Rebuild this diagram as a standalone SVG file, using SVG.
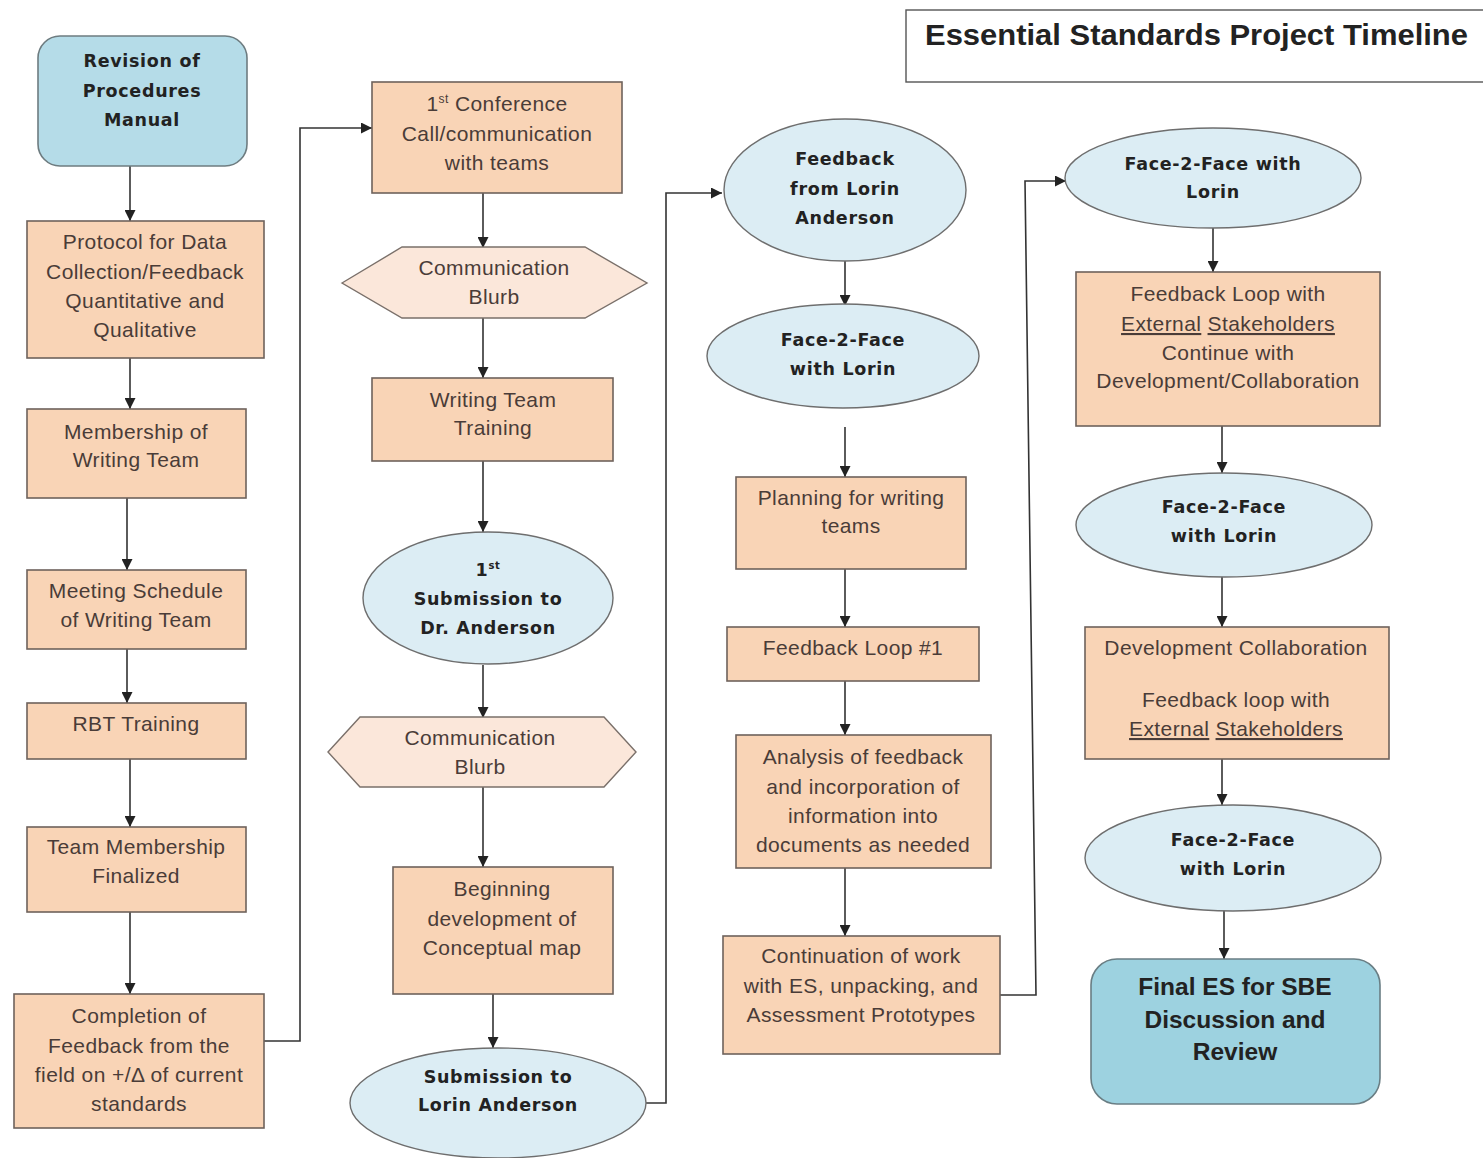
<svg xmlns="http://www.w3.org/2000/svg" width="1483" height="1158" viewBox="0 0 1483 1158">
<style>
.box{fill:#F9D4B6;stroke:#6e625c;stroke-width:1.6}
.ell{fill:#DCEDF4;stroke:#6e6e6e;stroke-width:1.4}
.hex{fill:#FBE7DA;stroke:#7a706a;stroke-width:1.4}
.t{font-family:"Liberation Sans",Arial,sans-serif;font-size:21px;fill:#4a3c38;text-anchor:middle;letter-spacing:0.4px}
.b{font-family:"DejaVu Sans",Verdana,sans-serif;font-weight:bold;font-size:17.5px;fill:#222;text-anchor:middle;letter-spacing:0.7px}
.f{font-family:"Liberation Sans",Arial,sans-serif;font-weight:bold;font-size:24.5px;fill:#222;text-anchor:middle}
.c{fill:none;stroke:#333;stroke-width:1.6}
</style>
<defs>
<marker id="ah" viewBox="0 0 10 10" refX="10" refY="5" markerWidth="11" markerHeight="11" markerUnits="userSpaceOnUse" orient="auto">
<path d="M0,0 L10,5 L0,10 z" fill="#222"/>
</marker>
</defs>
<rect width="1483" height="1158" fill="#fff"/>

<g id="title">
<rect x="906" y="10" width="590" height="72" fill="#fff" stroke="#555" stroke-width="1.4"/>
<text x="925" y="45" textLength="543" lengthAdjust="spacingAndGlyphs" font-family="'Liberation Sans',Arial,sans-serif" font-weight="bold" font-size="29px" fill="#222">Essential Standards Project Timeline</text>
</g>

<g id="connectors">
<path class="c" marker-end="url(#ah)" d="M130,166 V221"/>
<path class="c" marker-end="url(#ah)" d="M130,345 V409"/>
<path class="c" marker-end="url(#ah)" d="M127,498 V570"/>
<path class="c" marker-end="url(#ah)" d="M127,649 V703"/>
<path class="c" marker-end="url(#ah)" d="M130,759 V827"/>
<path class="c" marker-end="url(#ah)" d="M130,912 V994"/>
<path class="c" marker-end="url(#ah)" d="M264,1041 H300 V128 H372"/>
<path class="c" marker-end="url(#ah)" d="M483,193 V248"/>
<path class="c" marker-end="url(#ah)" d="M483,318 V378"/>
<path class="c" marker-end="url(#ah)" d="M483,461 V532"/>
<path class="c" marker-end="url(#ah)" d="M483,665 V718"/>
<path class="c" marker-end="url(#ah)" d="M483,787 V867"/>
<path class="c" marker-end="url(#ah)" d="M493,994 V1048"/>
<path class="c" marker-end="url(#ah)" d="M646,1103 H666 V193 H722"/>
<path class="c" marker-end="url(#ah)" d="M845,261 V306"/>
<path class="c" marker-end="url(#ah)" d="M845,427 V477"/>
<path class="c" marker-end="url(#ah)" d="M845,569 V627"/>
<path class="c" marker-end="url(#ah)" d="M845,681 V735"/>
<path class="c" marker-end="url(#ah)" d="M845,868 V936"/>
<path class="c" marker-end="url(#ah)" d="M1000,995 H1036 L1025,181 H1066"/>
<path class="c" marker-end="url(#ah)" d="M1213,228 V272"/>
<path class="c" marker-end="url(#ah)" d="M1222,426 V473"/>
<path class="c" marker-end="url(#ah)" d="M1222,577 V627"/>
<path class="c" marker-end="url(#ah)" d="M1222,759 V805"/>
<path class="c" marker-end="url(#ah)" d="M1224,900 V959"/>
</g>

<g id="n1">
<rect x="38" y="36" width="209" height="130" rx="22" fill="#B5DCE8" stroke="#6e7c80" stroke-width="1.6"/>
<text class="b" x="142" y="67">Revision of</text>
<text class="b" x="142" y="97">Procedures</text>
<text class="b" x="142" y="126">Manual</text>
</g>
<g id="n2">
<rect class="box" x="27" y="221" width="237" height="137"/>
<text class="t" x="145" y="249">Protocol for Data</text>
<text class="t" x="145" y="279">Collection/Feedback</text>
<text class="t" x="145" y="308">Quantitative and</text>
<text class="t" x="145" y="337">Qualitative</text>
</g>
<g id="n3">
<rect class="box" x="27" y="409" width="219" height="89"/>
<text class="t" x="136" y="439">Membership of</text>
<text class="t" x="136" y="467">Writing Team</text>
</g>
<g id="n4">
<rect class="box" x="27" y="570" width="219" height="79"/>
<text class="t" x="136" y="598">Meeting Schedule</text>
<text class="t" x="136" y="627">of Writing Team</text>
</g>
<g id="n5">
<rect class="box" x="27" y="703" width="219" height="56"/>
<text class="t" x="136" y="731">RBT Training</text>
</g>
<g id="n6">
<rect class="box" x="27" y="827" width="219" height="85"/>
<text class="t" x="136" y="854">Team Membership</text>
<text class="t" x="136" y="883">Finalized</text>
</g>
<g id="n7">
<rect class="box" x="14" y="994" width="250" height="134"/>
<text class="t" x="139" y="1023">Completion of</text>
<text class="t" x="139" y="1053">Feedback from the</text>
<text class="t" x="139" y="1082">field on +/Δ of current</text>
<text class="t" x="139" y="1111">standards</text>
</g>

<g id="n8">
<rect class="box" x="372" y="82" width="250" height="111"/>
<text class="t" x="497" y="111">1<tspan font-size="12" dy="-8">st</tspan><tspan dy="8"> Conference</tspan></text>
<text class="t" x="497" y="141">Call/communication</text>
<text class="t" x="497" y="170">with teams</text>
</g>
<g id="n9">
<polygon class="hex" points="342,283 402,247 585,247 647,283 585,318 402,318"/>
<text class="t" x="494" y="275">Communication</text>
<text class="t" x="494" y="304">Blurb</text>
</g>
<g id="n10">
<rect class="box" x="372" y="378" width="241" height="83"/>
<text class="t" x="493" y="407">Writing Team</text>
<text class="t" x="493" y="435">Training</text>
</g>
<g id="n11">
<ellipse class="ell" cx="488" cy="598" rx="125" ry="66"/>
<text class="b" x="488" y="576">1<tspan font-size="10" dy="-7">st</tspan></text>
<text class="b" x="488" y="605">Submission to</text>
<text class="b" x="488" y="634">Dr. Anderson</text>
</g>
<g id="n12">
<polygon class="hex" points="328,752 360,717 604,717 636,752 604,787 360,787"/>
<text class="t" x="480" y="745">Communication</text>
<text class="t" x="480" y="774">Blurb</text>
</g>
<g id="n13">
<rect class="box" x="393" y="867" width="220" height="127"/>
<text class="t" x="502" y="896">Beginning</text>
<text class="t" x="502" y="926">development of</text>
<text class="t" x="502" y="955">Conceptual map</text>
</g>
<g id="n14">
<ellipse class="ell" cx="498" cy="1103" rx="148" ry="55"/>
<text class="b" x="498" y="1083">Submission to</text>
<text class="b" x="498" y="1111">Lorin Anderson</text>
</g>

<g id="n15">
<ellipse class="ell" cx="845" cy="190" rx="121" ry="71"/>
<text class="b" x="845" y="165">Feedback</text>
<text class="b" x="845" y="195">from Lorin</text>
<text class="b" x="845" y="224">Anderson</text>
</g>
<g id="n16">
<ellipse class="ell" cx="843" cy="356" rx="136" ry="52"/>
<text class="b" x="843" y="346">Face-2-Face</text>
<text class="b" x="843" y="375">with Lorin</text>
</g>
<g id="n17">
<rect class="box" x="736" y="477" width="230" height="92"/>
<text class="t" x="851" y="505">Planning for writing</text>
<text class="t" x="851" y="533">teams</text>
</g>
<g id="n18">
<rect class="box" x="727" y="627" width="252" height="54"/>
<text class="t" x="853" y="655">Feedback Loop #1</text>
</g>
<g id="n19">
<rect class="box" x="736" y="735" width="255" height="133"/>
<text class="t" x="863" y="764">Analysis of feedback</text>
<text class="t" x="863" y="794">and incorporation of</text>
<text class="t" x="863" y="823">information into</text>
<text class="t" x="863" y="852">documents as needed</text>
</g>
<g id="n20">
<rect class="box" x="723" y="936" width="277" height="118"/>
<text class="t" x="861" y="963">Continuation of work</text>
<text class="t" x="861" y="993">with ES, unpacking, and</text>
<text class="t" x="861" y="1022">Assessment Prototypes</text>
</g>

<g id="n21">
<ellipse class="ell" cx="1213" cy="178" rx="148" ry="50"/>
<text class="b" x="1213" y="170">Face-2-Face with</text>
<text class="b" x="1213" y="198">Lorin</text>
</g>
<g id="n22">
<rect class="box" x="1076" y="272" width="304" height="154"/>
<text class="t" x="1228" y="301">Feedback Loop with</text>
<text class="t" x="1228" y="331"><tspan text-decoration="underline">External</tspan> <tspan text-decoration="underline">Stakeholders</tspan></text>
<text class="t" x="1228" y="360">Continue with</text>
<text class="t" x="1228" y="388">Development/Collaboration</text>
</g>
<g id="n23">
<ellipse class="ell" cx="1224" cy="525" rx="148" ry="52"/>
<text class="b" x="1224" y="513">Face-2-Face</text>
<text class="b" x="1224" y="542">with Lorin</text>
</g>
<g id="n24">
<rect class="box" x="1085" y="627" width="304" height="132"/>
<text class="t" x="1236" y="655">Development Collaboration</text>
<text class="t" x="1236" y="707">Feedback loop with</text>
<text class="t" x="1236" y="736"><tspan text-decoration="underline">External</tspan> <tspan text-decoration="underline">Stakeholders</tspan></text>
</g>
<g id="n25">
<ellipse class="ell" cx="1233" cy="858" rx="148" ry="53"/>
<text class="b" x="1233" y="846">Face-2-Face</text>
<text class="b" x="1233" y="875">with Lorin</text>
</g>
<g id="n26">
<rect x="1091" y="959" width="289" height="145" rx="26" fill="#9DD2E0" stroke="#6a7e84" stroke-width="1.6"/>
<text class="f" x="1235" y="995">Final ES for SBE</text>
<text class="f" x="1235" y="1028">Discussion and</text>
<text class="f" x="1235" y="1060">Review</text>
</g>
</svg>
